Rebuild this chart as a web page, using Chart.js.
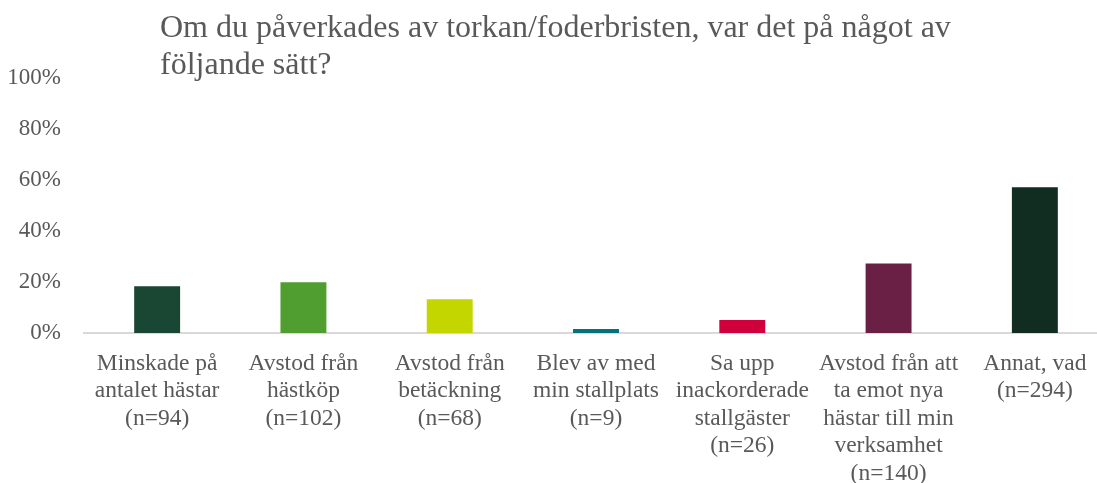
<!DOCTYPE html>
<html>
<head>
<meta charset="utf-8">
<script src="https://cdn.jsdelivr.net/npm/chart.js@4/dist/chart.umd.min.js"></script>
<style>
  html, body { margin: 0; padding: 0; background: #ffffff; overflow: hidden; }
  #wrap { position: relative; width: 1108px; height: 483px; }
</style>
</head>
<body>
<div id="wrap"><canvas id="c"></canvas></div>
<script>
const titleLines = ["Om du påverkades av torkan/foderbristen, var det på något av", "följande sätt?"];
const categories = [
  ["Minskade på", "antalet hästar", "(n=94)"],
  ["Avstod från", "hästköp", "(n=102)"],
  ["Avstod från", "betäckning", "(n=68)"],
  ["Blev av med", "min stallplats", "(n=9)"],
  ["Sa upp", "inackorderade", "stallgäster", "(n=26)"],
  ["Avstod från att", "ta emot nya", "hästar till min", "verksamhet", "(n=140)"],
  ["Annat, vad", "(n=294)"]
];
const values = [18.3, 19.9, 13.2, 1.6, 5.1, 27.3, 57.2];
const barColors = ["#1A4734", "#509E2F", "#C4D600", "#00747A", "#D0003C", "#692044", "#112D21"];
const yTicks = [0, 20, 40, 60, 80, 100];

const FONT = "'Liberation Serif', 'Times New Roman', serif";
const TEXT = "#595959";

const titlePlugin = {
  id: 'leftTitle',
  afterDraw(chart) {
    const ctx = chart.ctx;
    ctx.save();
    ctx.font = "32px " + FONT;
    ctx.fillStyle = TEXT;
    ctx.textAlign = 'left';
    ctx.textBaseline = 'alphabetic';
    ctx.fillText(titleLines[0], 160, 37);
    ctx.fillText(titleLines[1], 160, 74);
    ctx.restore();
  }
};

new Chart(document.getElementById('c'), {
  type: 'bar',
  data: {
    labels: categories,
    datasets: [{
      data: values,
      backgroundColor: barColors,
      borderWidth: 0,
      categoryPercentage: 1.0,
      barPercentage: 0.314
    }]
  },
  options: {
    responsive: true,
    maintainAspectRatio: false,
    animation: false,
    layout: { padding: { top: 78, left: 0, right: 0, bottom: 0 } },
    plugins: {
      legend: { display: false },
      title: { display: false },
      tooltip: { enabled: false }
    },
    scales: {
      x: {
        grid: { display: false, drawTicks: false },
        border: { display: true, color: '#D9D9D9', width: 2 },
        ticks: {
          color: TEXT,
          font: { family: FONT, size: 23.5, lineHeight: 1.17 },
          padding: 17,
          maxRotation: 0,
          autoSkip: false
        },
        afterFit(scale) { scale.height = 150; }
      },
      y: {
        min: 0,
        max: 100,
        grid: { display: false, drawTicks: false },
        border: { display: false },
        afterBuildTicks(scale) { scale.ticks = yTicks.map(v => ({ value: v })); },
        ticks: {
          color: TEXT,
          font: { family: FONT, size: 23 },
          padding: 23,
          callback: v => v + '%'
        },
        afterFit(scale) { scale.width = 84; }
      }
    }
  },
  plugins: [titlePlugin]
});
</script>
</body>
</html>
